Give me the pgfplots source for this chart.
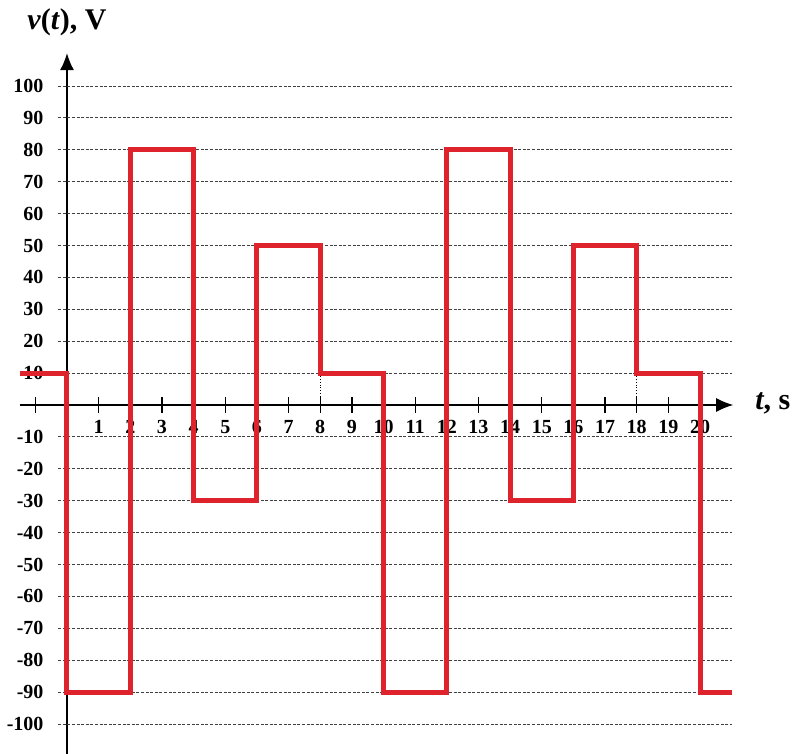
\documentclass[border=0pt]{standalone}
\usepackage{fontspec}
\setmainfont{Liberation Serif}
\usepackage{pgfplots}
\pgfplotsset{compat=1.18}
\usetikzlibrary{arrows.meta}
\definecolor{wave}{RGB}{222,35,45}
\begin{document}
\begin{tikzpicture}
\useasboundingbox (-67pt,-349pt) rectangle (726pt,405pt);
\begin{axis}[
  anchor=origin, at={(0pt,0pt)},
  x=31.65pt, y=3.19pt,
  xmin=-1.5, xmax=21.05, ymin=-109.4, ymax=110.3,
  axis lines=middle,
  axis line style={line width=1.4pt, -{Latex[length=17pt,width=14pt]}},
  clip=false,
  xtick={1,2,...,20},
  extra x ticks={-1}, extra x tick labels={},
  ytick={-100,-90,-80,-70,-60,-50,-40,-30,-20,-10,10,20,30,40,50,60,70,80,90,100},
  /pgf/number format/assume math mode=true,
  tick label style={font=\fontsize{20pt}{20pt}\selectfont\bfseries},
  major tick length=16pt,
  tick align=center,
  x tick style={line width=1.3pt, black},
  extra x tick style={tick style={line width=1.3pt, black}},
  y tick style={draw=none},
  xticklabel style={anchor=north, yshift=-4pt},
  yticklabel style={anchor=east, xshift=-12pt},
]
\pgfplotsinvokeforeach{-100,-90,-80,-70,-60,-50,-40,-30,-20,-10,10,20,30,40,50,60,70,80,90,100}{
  \draw[black!75, line width=0.8pt, dash pattern=on 3pt off 1.6pt] (axis cs:-0.28,#1) -- (axis cs:21,#1);
}
\addplot[black, line width=0.8pt, dotted] coordinates {(8,0) (8,10)};
\addplot[black, line width=0.8pt, dotted] coordinates {(18,0) (18,10)};
\addplot[wave, line width=5pt, line join=miter] coordinates {
  (-1.5,10) (0,10) (0,-90) (2,-90) (2,80) (4,80) (4,-30) (6,-30) (6,50) (8,50)
  (8,10) (10,10) (10,-90) (12,-90) (12,80) (14,80) (14,-30) (16,-30) (16,50)
  (18,50) (18,10) (20,10) (20,-90) (21,-90)
};
\node[font=\fontsize{30pt}{30pt}\selectfont\bfseries] at (axis cs:0,120) {\textit{v}(\textit{t}), V};
\node[font=\fontsize{30pt}{30pt}\selectfont\bfseries, anchor=center] at (axis cs:22.3,0.5) {\textit{t}, s};
\end{axis}
\end{tikzpicture}
\end{document}
